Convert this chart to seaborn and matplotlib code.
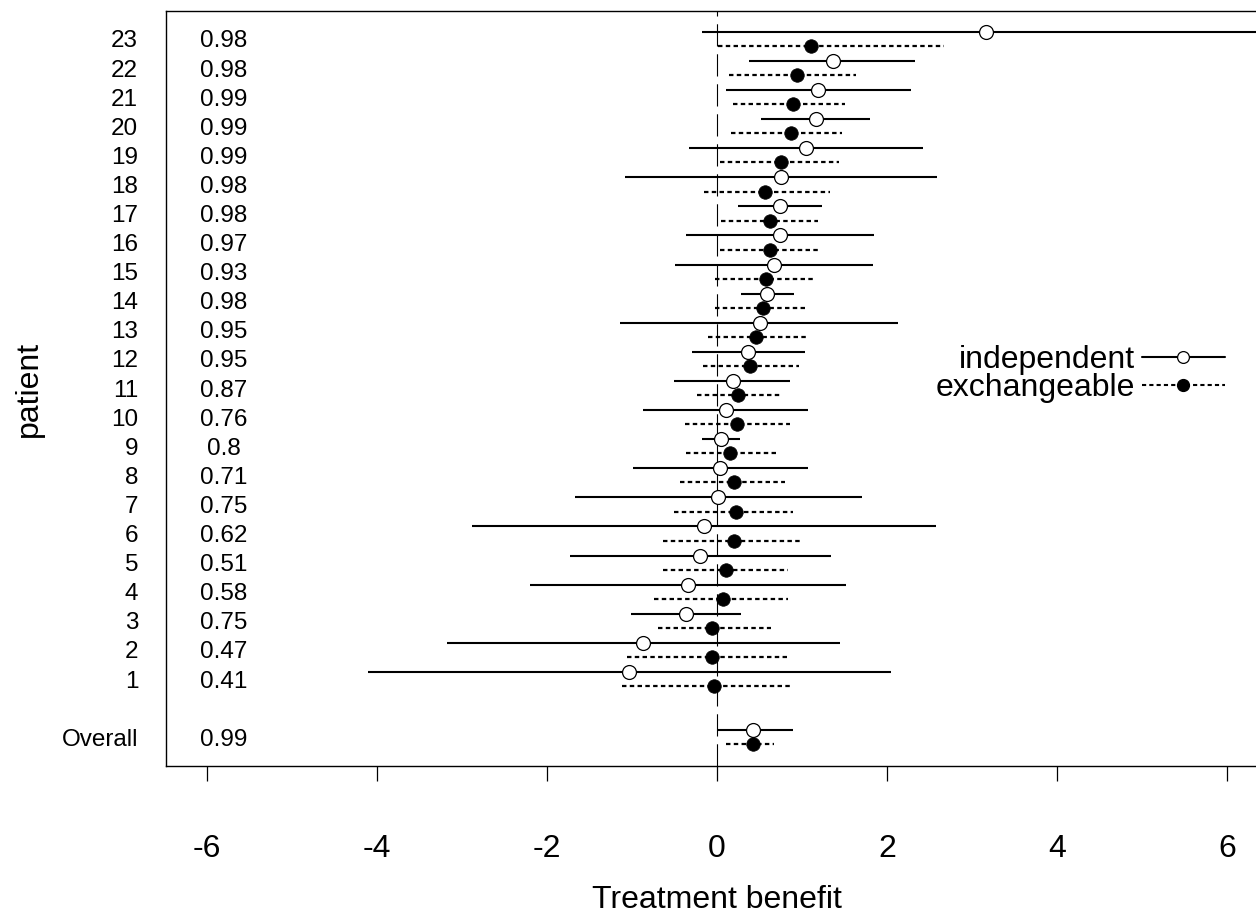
import numpy as np
import pandas as pd
import matplotlib
matplotlib.use("Agg")
import matplotlib.pyplot as plt
from matplotlib.lines import Line2D
import seaborn as sns

# ---------------- data ----------------
patients = list(range(1, 24))
prob_benefit = [0.41, 0.47, 0.75, 0.58, 0.51, 0.62, 0.75, 0.71, 0.8, 0.76, 0.87, 0.95,
                0.95, 0.98, 0.93, 0.97, 0.98, 0.98, 0.99, 0.99, 0.99, 0.98, 0.98]
overall_prob = 0.99

indep_est = [-1.03, -0.87, -0.36, -0.34, -0.20, -0.15, 0.015, 0.04, 0.05, 0.10, 0.19, 0.37,
             0.50, 0.59, 0.67, 0.74, 0.74, 0.75, 1.05, 1.16, 1.19, 1.36, 3.16]
indep_lo = [-4.11, -3.17, -1.01, -2.20, -1.73, -2.88, -1.67, -0.99, -0.18, -0.87, -0.50, -0.29,
            -1.14, 0.28, -0.49, -0.37, 0.25, -1.08, -0.33, 0.52, 0.11, 0.38, -0.18]
indep_hi = [2.05, 1.45, 0.28, 1.52, 1.34, 2.58, 1.71, 1.07, 0.27, 1.07, 0.86, 1.03,
            2.13, 0.90, 1.83, 1.85, 1.24, 2.59, 2.42, 1.80, 2.28, 2.33, 7.5]

exch_est = [-0.04, -0.06, -0.06, 0.07, 0.10, 0.20, 0.22, 0.20, 0.15, 0.23, 0.25, 0.39,
            0.46, 0.54, 0.58, 0.62, 0.62, 0.57, 0.75, 0.87, 0.89, 0.94, 1.10]
exch_lo = [-1.12, -1.06, -0.69, -0.74, -0.63, -0.63, -0.51, -0.43, -0.36, -0.38, -0.24, -0.17,
           -0.10, -0.02, -0.02, 0.04, 0.05, -0.15, 0.04, 0.16, 0.19, 0.14, 0.015]
exch_hi = [0.88, 0.83, 0.63, 0.84, 0.84, 1.00, 0.89, 0.80, 0.70, 0.86, 0.74, 0.97,
           1.05, 1.05, 1.13, 1.19, 1.19, 1.33, 1.44, 1.47, 1.51, 1.63, 2.67]

overall_indep = [0.42, 0.0, 0.89]   # est, lo, hi
overall_exch = [0.42, 0.11, 0.67]

x_ticks = [-6, -4, -2, 0, 2, 4, 6]

# ---------------- style ----------------
sns.set_theme(style="white")
plt.rcParams['font.family'] = ['Liberation Sans', 'DejaVu Sans']
plt.rcParams['axes.unicode_minus'] = False
for key in ['text.color', 'axes.labelcolor', 'xtick.color', 'ytick.color', 'axes.edgecolor']:
    plt.rcParams[key] = 'black'

fig = plt.figure(figsize=(12.56, 9.23), dpi=100)
ax = fig.add_axes([166 / 1256, 1 - 766 / 923, 1102 / 1256, 755 / 923])

# y positions
ypos = np.array(patients, dtype=float)
y_over = -1.0
off = 0.245

df = pd.DataFrame({
    "y_ind": np.append(ypos, y_over) + off,
    "y_exc": np.append(ypos, y_over) - off,
    "ind_est": indep_est + [overall_indep[0]],
    "ind_lo": indep_lo + [overall_indep[1]],
    "ind_hi": indep_hi + [overall_indep[2]],
    "exc_est": exch_est + [overall_exch[0]],
    "exc_lo": exch_lo + [overall_exch[1]],
    "exc_hi": exch_hi + [overall_exch[2]],
})

dotted = (0, (2.0, 1.5))

ax.hlines(df["y_ind"], df["ind_lo"], df["ind_hi"], color="black", lw=1.5, zorder=2)
ax.hlines(df["y_exc"], df["exc_lo"], df["exc_hi"], color="black", lw=1.6,
          linestyles=[dotted], zorder=2)
ax.axvline(0, color="black", lw=0.8, dashes=(20, 7), zorder=1)

sns.scatterplot(data=df, x="ind_est", y="y_ind", marker="o", s=100,
                facecolor="white", edgecolor="black", linewidth=0.9, ax=ax, zorder=3)
sns.scatterplot(data=df, x="exc_est", y="y_exc", marker="o", s=95,
                color="black", edgecolor="black", linewidth=0.5, ax=ax, zorder=3)

# probability column
for yy, p in zip(list(ypos) + [y_over], prob_benefit + [overall_prob]):
    ax.text(-5.8, yy, f"{p:g}", ha="center", va="center_baseline", fontsize=17.5)

# axes
ax.set_xlim(-6.48, 6.48)
ax.set_ylim(-1.99, 23.96)
ax.set_xticks(x_ticks)
ax.set_xticklabels([str(t) for t in x_ticks])
ax.set_yticks(list(ypos) + [y_over])
ax.set_yticklabels([str(p) for p in patients] + ["Overall"])
ax.tick_params(axis="x", direction="out", length=11, width=0.9, pad=38,
               labelsize=23, bottom=True, color="black")
ax.tick_params(axis="y", length=0, pad=20, labelsize=17.5)
ax.set_xlabel("Treatment benefit", fontsize=23)
ax.set_ylabel("patient", fontsize=23)
ax.xaxis.set_label_coords(0.5, -0.158)
ax.yaxis.set_label_coords(-0.111, 0.5)
for side in ["left", "bottom", "top"]:
    ax.spines[side].set_visible(True)
    ax.spines[side].set_color("black")
    ax.spines[side].set_linewidth(1.0)
ax.spines["right"].set_visible(False)

handles = [
    Line2D([], [], color="black", lw=1.5, marker="o", markersize=8.5,
           markerfacecolor="white", markeredgecolor="black", markeredgewidth=0.9),
    Line2D([], [], color="black", lw=1.5, linestyle=dotted, marker="o", markersize=8.5,
           markerfacecolor="black", markeredgecolor="black"),
]
ax.legend(handles, ["independent", "exchangeable"], loc="center right",
          bbox_to_anchor=(0.961, 0.519), frameon=False, markerfirst=False,
          fontsize=23, handlelength=2.6, handletextpad=0.22, labelspacing=-0.07,
          borderpad=0, borderaxespad=0, numpoints=1)

fig.savefig("out.png", dpi=100)
